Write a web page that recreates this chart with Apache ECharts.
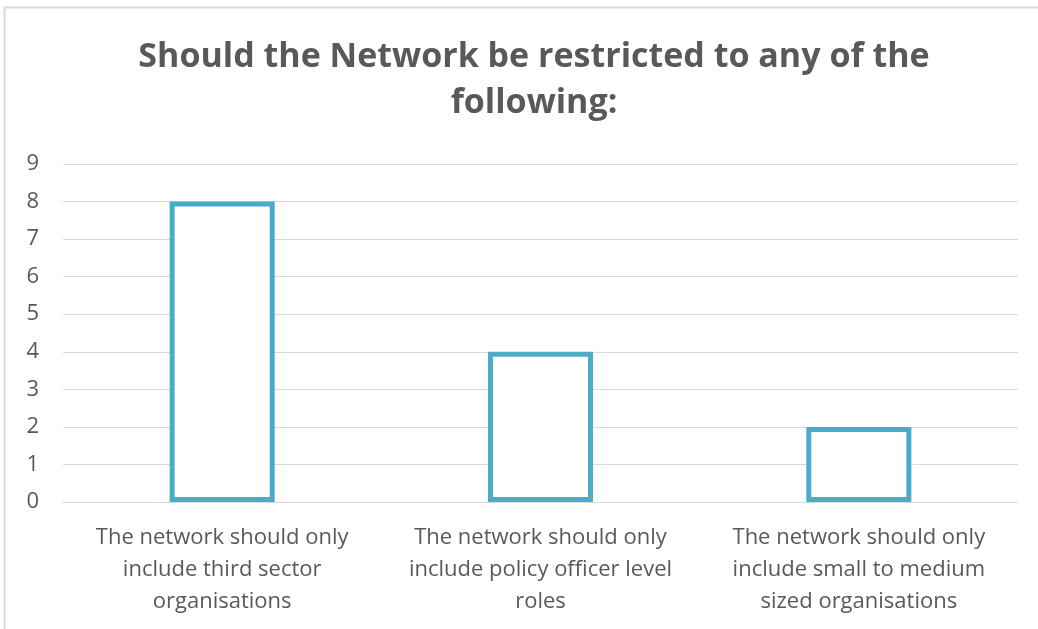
<!DOCTYPE html>
<html><head><meta charset="utf-8">
<script src="https://cdn.jsdelivr.net/npm/echarts@6/dist/echarts.min.js"></script>
<style>html,body{margin:0;padding:0;background:#fff;}#c{width:1038px;height:629px;}</style>
</head><body><div id="c"></div>
<script>
const categories = [
  "The network should only\ninclude third sector\norganisations",
  "The network should only\ninclude policy officer level\nroles",
  "The network should only\ninclude small to medium\nsized organisations"
];
const values = [8, 4, 2];
const titleText = "Should the Network be restricted to any of the\nfollowing:";

const chart = echarts.init(document.getElementById('c'));
chart.setOption({
  backgroundColor: '#fff',
  graphic: [{
    type: 'rect', shape: {x: 4.5, y: 7.5, width: 1100, height: 700},
    style: {fill: 'none', stroke: '#d9d9d9', lineWidth: 2}, silent: true
  }],
  title: {
    text: titleText, left: 529, textAlign: 'center', top: 29,
    textStyle: {fontFamily: 'Open Sans', fontWeight: 'bold', fontSize: 34, color: '#595959', lineHeight: 46}
  },
  grid: {left: 63, right: 20, top: 164, bottom: 127, containLabel: false},
  xAxis: {
    type: 'category', data: categories,
    axisLine: {show: true, lineStyle: {color: '#d9d9d9', width: 1}},
    axisTick: {show: false},
    axisLabel: {interval: 0, color: '#595959', fontFamily: 'Open Sans', fontSize: 22, lineHeight: 32, margin: 20}
  },
  yAxis: {
    type: 'value', min: 0, max: 9, interval: 1,
    axisLine: {show: false}, axisTick: {show: false},
    splitLine: {lineStyle: {color: '#d9d9d9', width: 1}},
    axisLabel: {color: '#595959', fontFamily: 'Open Sans', fontSize: 22, margin: 24}
  },
  series: [{
    type: 'bar', data: values, barWidth: '33%',
    itemStyle: {color: '#ffffff', borderColor: '#4aacc6', borderWidth: 5},
    silent: true
  }]
});
</script></body></html>
